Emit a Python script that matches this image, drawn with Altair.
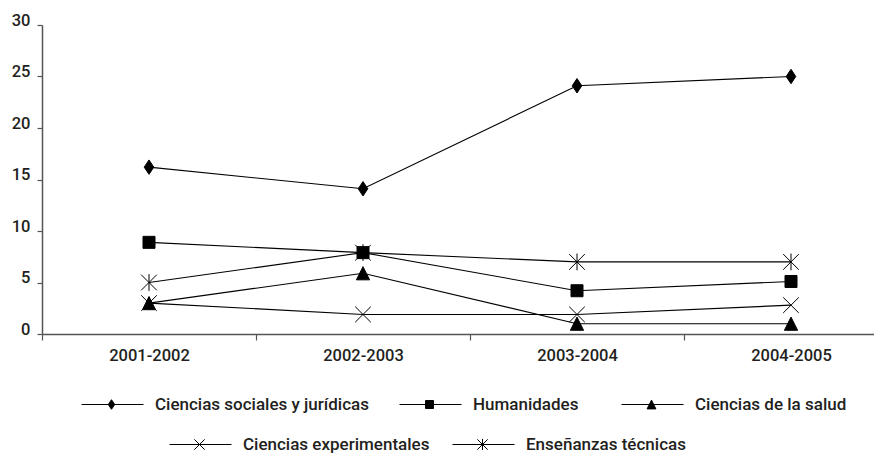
import altair as alt
import pandas as pd

years = ["2001-2002", "2002-2003", "2003-2004", "2004-2005"]
series_names = [
    "Ciencias sociales y jurídicas",
    "Humanidades",
    "Ciencias de la salud",
    "Ciencias experimentales",
    "Enseñanzas técnicas",
]
sociales = [16.2, 14.1, 24.1, 25.0]
humanidades = [8.9, 7.9, 4.2, 5.1]
salud = [3.0, 5.9, 1.0, 1.0]
experimentales = [3.0, 1.9, 1.9, 2.8]
tecnicas = [5.0, 7.9, 7.0, 7.0]
y_ticks = [0, 5, 10, 15, 20, 25, 30]

all_values = [sociales, humanidades, salud, experimentales, tecnicas]
rows = []
for name, vals in zip(series_names, all_values):
    for yr, v in zip(years, vals):
        rows.append({"curso": yr, "serie": name, "valor": v})
df = pd.DataFrame(rows)

# marker shapes (unit paths)
markers = [
    "M0,-1.2L0.8,0L0,1.2L-0.8,0Z",
    "M-1,-1L1,-1L1,1L-1,1Z",
    "M0,-1.1L1.1,1.1L-1.1,1.1Z",
    "M-1.3,-1.3L1.3,1.3M1.3,-1.3L-1.3,1.3",
    "M-1.3,-1.3L1.3,1.3M1.3,-1.3L-1.3,1.3M0,-1.4L0,1.4",
]
# legend symbols: line with marker in the middle
legend_paths = [
    "M0,0L15.5,0M7.5,-1.2L8.3,0L7.5,1.2L6.7,0Z",
    "M0,0L15.5,0M6.5,-1L8.5,-1L8.5,1L6.5,1Z",
    "M0,0L15.5,0M7.5,-1.1L8.6,1.1L6.4,1.1Z",
    "M0,0L15.5,0M6.2,-1.3L8.8,1.3M8.8,-1.3L6.2,1.3",
    "M0,0L15.5,0M6.2,-1.3L8.8,1.3M8.8,-1.3L6.2,1.3M7.5,-1.4L7.5,1.4",
]
# legend placement (x, y in px relative to the plot area)
legend_pos = [(31, 371), (349, 371), (571, 371), (119, 411), (402, 411)]

FONT = "Roboto"
TXT = "#231f20"
AX = "#555555"

x_enc = alt.X(
    "curso:N",
    bandPosition=0.5,
    scale=alt.Scale(type="band", domain=years, range=[0, 856], paddingInner=0, paddingOuter=0),
    axis=alt.Axis(title=None, labelAngle=0, tickBand="extent", tickSize=6, labelPadding=7,
                  domainColor=AX, domainWidth=1.5, tickColor=AX, tickWidth=1.2),
)
y_enc = alt.Y(
    "valor:Q",
    scale=alt.Scale(domain=[0, 30], nice=False, zero=True),
    axis=alt.Axis(title=None, values=y_ticks, grid=False, tickSize=5, labelPadding=7,
                  labelBaseline="alphabetic", domainColor=AX, domainWidth=1.5,
                  tickColor=AX, tickWidth=1.2),
)

base = alt.Chart(df)

lines = base.mark_line(color="black", strokeWidth=1.1).encode(
    x=x_enc, y=y_enc, detail="serie:N", order=alt.Order("curso:N")
)

layers = [lines]
for name, path in zip(series_names, markers):
    layers.append(
        base.transform_filter(alt.datum.serie == name)
        .mark_point(filled=True, fill="black", stroke="black", strokeWidth=1, size=144, opacity=1)
        .encode(x=x_enc, y=y_enc, shape=alt.value(path))
    )

for name, lpath, (lx, ly) in zip(series_names, legend_paths, legend_pos):
    layers.append(
        base.transform_filter("datum.valor < -1000")
        .mark_point(filled=False, fill="black", stroke="black", strokeWidth=1, size=64, opacity=1)
        .encode(
            x=x_enc,
            y=y_enc,
            shape=alt.Shape(
                "serie:N",
                scale=alt.Scale(domain=[name], range=[lpath]),
                legend=alt.Legend(
                    title=None, orient="none", legendX=lx, legendY=ly, direction="horizontal",
                    symbolSize=64, labelOffset=65, symbolStrokeWidth=1, symbolOpacity=1,
                    labelFont=FONT, labelFontSize=17, labelFontWeight=500, labelColor=TXT,
                    labelLimit=400, padding=0,
                ),
            ),
        )
    )

chart = (
    alt.layer(*layers)
    .resolve_scale(shape="independent")
    .properties(
        width=832,
        height=309,
        autosize=alt.AutoSizeParams(type="none"),
        padding={"left": 34, "top": 17, "right": 0, "bottom": 120},
        background="white",
    )
    .configure_view(stroke=None)
    .configure_axis(labelFont=FONT, labelFontSize=16.5, labelFontWeight=500, labelColor=TXT)
)

chart.save("out.html", embed_options={"renderer": "svg", "actions": False})
